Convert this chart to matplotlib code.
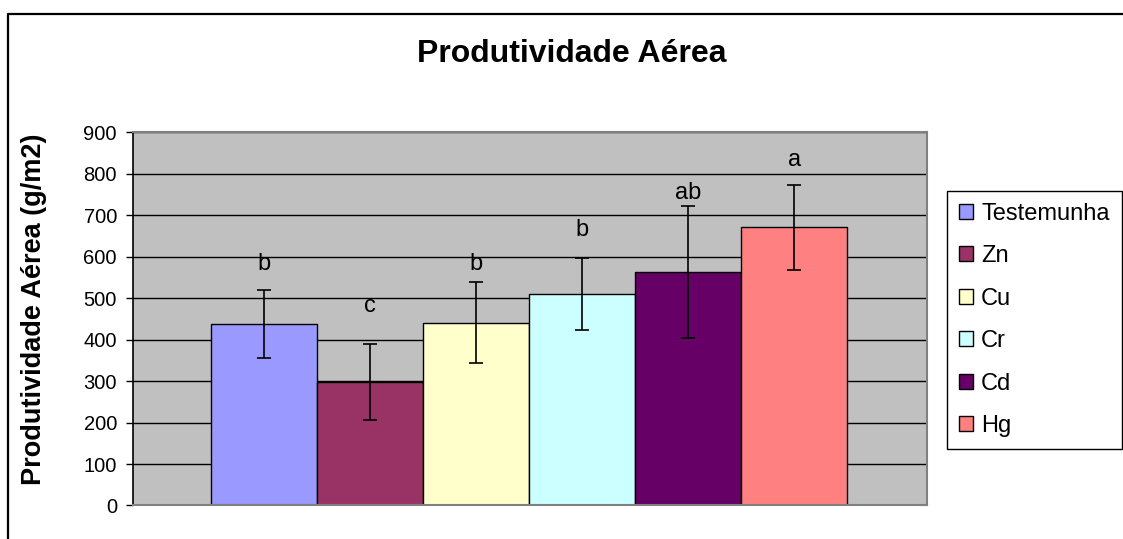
import matplotlib.pyplot as plt
from matplotlib.lines import Line2D
from matplotlib.patches import Patch

# Values
treatments = ["Testemunha", "Zn", "Cu", "Cr", "Cd", "Hg"]
means = [438, 298, 441, 511, 563, 671]
errors = [82, 92, 98, 87, 159, 103]
letters = ["b", "c", "b", "b", "ab", "a"]
letter_y = [583, 481, 583, 664, 754, 833]
colors = ["#9999FF", "#993366", "#FFFFCC", "#CCFFFF", "#660066", "#FF8080"]
yticks = [0, 100, 200, 300, 400, 500, 600, 700, 800, 900]

plt.rcParams["font.family"] = ["Liberation Sans", "DejaVu Sans"]

fig = plt.figure(figsize=(11.23, 5.39), dpi=100)
ax = fig.add_axes([0.1184, 0.0622, 0.8255 - 0.1184, 0.7545 - 0.0622])
ax.set_facecolor("#C0C0C0")

x = list(range(len(treatments)))
ax.bar(x, means, width=1.0, color=colors, edgecolor="black", linewidth=1.0, zorder=2)
ax.errorbar(x, means, yerr=errors, fmt="none", ecolor="black", elinewidth=1.2,
            capsize=5, capthick=1.2, zorder=3)
for xi, lab, ly in zip(x, letters, letter_y):
    ax.text(xi, ly, lab, ha="center", va="center", fontsize=17, zorder=4)

ax.set_xlim(-1.236, 6.25)
ax.set_ylim(0, 900)
ax.set_yticks(yticks)
ax.set_xticks([])
ax.tick_params(axis="y", labelsize=14.5, length=5, width=1, pad=6.5)
ax.yaxis.grid(True, color="black", linewidth=1.0)
ax.set_axisbelow(True)

ax.spines["left"].set_color("black")
ax.spines["left"].set_linewidth(1.2)
for s in ["top", "right", "bottom"]:
    ax.spines[s].set_color("#808080")
    ax.spines[s].set_linewidth(1.5)

ax.set_ylabel("Produtividade Aérea (g/m2)", fontsize=19.5, fontweight="bold")
ax.yaxis.set_label_coords(-0.108, 0.525)

fig.text(0.509, 0.90, "Produtividade Aérea", ha="center", va="center",
         fontsize=23, fontweight="bold")

# chart frame (left and top edges visible)
fig.add_artist(Line2D([8 / 1123, 8 / 1123, 1.0], [0.0, 1 - 13.5 / 539, 1 - 13.5 / 539],
                      color="black", linewidth=1.6))

handles = [Patch(facecolor=c, edgecolor="black", linewidth=1.0) for c in colors]
leg = fig.legend(handles, treatments, loc="upper left",
                 bbox_to_anchor=(947 / 1123, 1 - 190.7 / 539), borderaxespad=0,
                 fontsize=17, frameon=True, fancybox=False, framealpha=1,
                 edgecolor="black", handlelength=0.6, handleheight=0.6,
                 handletextpad=0.35, labelspacing=0.87, borderpad=0.5)
leg.get_frame().set_linewidth(1.0)

fig.savefig("out.png", dpi=100)
